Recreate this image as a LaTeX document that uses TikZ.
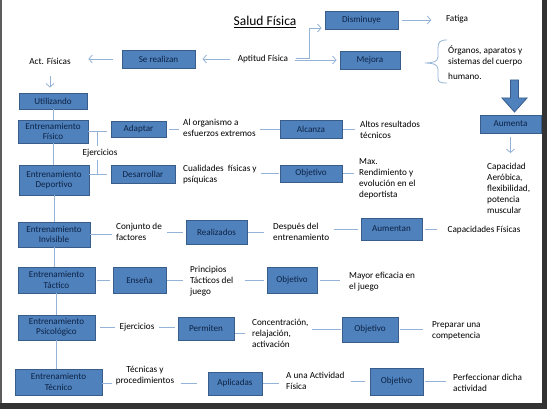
\documentclass[tikz,border=0pt]{standalone}
\usepackage{fontspec}
\setmainfont{Carlito}
\usetikzlibrary{arrows.meta,calc}
\definecolor{boxfill}{HTML}{4F81BD}
\definecolor{boxline}{HTML}{385D8A}
\definecolor{boxtext}{HTML}{0D2344}
\definecolor{connc}{HTML}{95B3D7}
\definecolor{framec}{HTML}{333333}
\begin{document}
\begin{tikzpicture}[x=1pt,y=-1pt,
  box/.style={draw=boxline,fill=boxfill,line width=0.9pt,text=boxtext,
    font=\fontsize{9.1}{10.2}\selectfont,align=center,inner sep=0pt},
  txt/.style={font=\fontsize{9.2}{11}\selectfont,align=left,inner sep=1.5pt},
  ctxt/.style={txt,align=center},
  link/.style={draw=connc,line width=0.8pt,shorten <=3pt,shorten >=3pt},
  arr/.style={draw=connc,line width=0.8pt,-{Straight Barb[length=3.5pt,width=8pt]}},
]
\useasboundingbox (0,0) rectangle (547,409);
\fill[white] (0,0) rectangle (547,409);
% frame
\fill[framec!80] (0,0) rectangle (2,403);
\fill[framec] (542,0) rectangle (547,409);
\fill[framec] (0,403) rectangle (547,409);

% title
\node[txt,font=\fontsize{13.5}{15}\selectfont] (title) at (265,22) {\underline{Salud Física}};

% top boxes
\node[box,minimum width=73pt,minimum height=18pt] (dis) at (361.5,20) {Disminuye};
\node[box,minimum width=60pt,minimum height=18pt] (mej) at (370,60) {Mejora};
\node[box,minimum width=73pt,minimum height=18pt] (ser) at (158.5,59) {Se realizan};
\node[box,minimum width=61pt,minimum height=18pt] (aum) at (510.5,124) {Aumenta};

\node[txt] (fat) at (457,19) {Fatiga};
\node[txt] (apt) at (263,59) {Aptitud Física};
\node[txt] (act) at (50,61) {Act. Físicas};
\node[txt,anchor=west] (org) at (446.5,63) {Órganos, aparatos y\\sistemas del cuerpo\\[4pt]humano.};
\node[txt,anchor=west] (cap) at (485.5,188) {Capacidad\\Aeróbica,\\flexibilidad,\\potencia\\muscular};

% brace
\draw[connc,line width=0.8pt] (447,40) .. controls (440,40) and (438,42) .. (438,48) -- (438,57)
  .. controls (438,62) and (432,63) .. (425,63) .. controls (432,63) and (438,64) .. (438,69)
  -- (438,78) .. controls (438,82) and (440,83) .. (447,83);
% big arrow
\draw[boxline,fill=boxfill,line width=0.8pt] (510.5,80) -- (518.5,80) -- (518.5,98) -- (527,98)
  -- (514.5,112) -- (502,98) -- (510.5,98) -- cycle;

% left column
\node[box,minimum width=68pt,minimum height=16pt] (uti) at (53,101) {Utilizando};
\node[box,minimum width=70pt,minimum height=23pt] (efis) at (53,131.5) {Entrenamiento\\Físico};
\node[box,minimum width=70pt,minimum height=30pt] (edep) at (54,180) {Entrenamiento\\Deportivo};
\node[box,minimum width=72pt,minimum height=25pt] (einv) at (54,234.5) {Entrenamiento\\Invisible};
\node[box,minimum width=77pt,minimum height=26pt] (etac) at (56.5,280) {Entrenamiento\\Táctico};
\node[box,minimum width=77pt,minimum height=25pt] (epsi) at (56.5,327.5) {Entrenamiento\\Psicológico};
\node[box,minimum width=87pt,minimum height=26pt] (etec) at (58.5,382) {Entrenamiento\\Técnico};

% row 1
\node[box,minimum width=55pt,minimum height=16pt] (adap) at (138.5,129) {Adaptar};
\node[txt,anchor=west] (alorg) at (181.5,128) {Al organismo a\\esfuerzos extremos};
\node[box,minimum width=62pt,minimum height=18pt] (alc) at (311,129) {Alcanza};
\node[txt,anchor=west] (altos) at (358.5,130) {Altos resultados\\técnicos};
\node[txt] (ej1) at (100,153) {Ejercicios};

% row 2
\node[box,minimum width=64pt,minimum height=18pt] (des) at (143,174) {Desarrollar};
\node[txt,anchor=west] (cual) at (181.5,175) {Cualidades \ físicas y\\psíquicas};
\node[box,minimum width=62pt,minimum height=17pt] (obj2) at (311,173.5) {Objetivo};
\node[txt,anchor=west] (max) at (357.5,178.5) {Max.\\Rendimiento y\\evolución en el\\deportista};

% row 3
\node[txt,anchor=west] (conj) at (114.5,232) {Conjunto de\\factores};
\node[box,minimum width=61pt,minimum height=24pt] (rea) at (216.5,232) {Realizados};
\node[txt,anchor=west] (desp) at (271.5,231.5) {Después del\\entrenamiento};
\node[box,minimum width=61pt,minimum height=22pt] (aumt) at (391.5,229) {Aumentan};
\node[txt] (capf) at (484,230) {Capacidades Físicas};

% row 4
\node[box,minimum width=53pt,minimum height=26pt] (ens) at (139.5,280) {Enseña};
\node[txt,anchor=west] (prin) at (188.5,281) {Principios\\Tácticos del\\juego};
\node[box,minimum width=50pt,minimum height=26pt] (obj4) at (292,280) {Objetivo};
\node[txt,anchor=west] (may) at (347.5,281.5) {Mayor eficacia en\\el juego};

% row 5
\node[txt] (ej2) at (137,327) {Ejercicios};
\node[box,minimum width=56pt,minimum height=23pt] (perm) at (206,328.5) {Permiten};
\node[txt,anchor=west] (conc) at (250.5,333) {Concentración,\\relajación,\\activación};
\node[box,minimum width=56pt,minimum height=25pt] (obj5) at (370,329.5) {Objetivo};
\node[txt,anchor=west] (prep) at (430.5,330.5) {Preparar una\\competencia};

% row 6
\node[ctxt] (tecn) at (145,376) {Técnicas y\\procedimientos};
\node[box,minimum width=54pt,minimum height=23pt] (apl) at (235,383.5) {Aplicadas};
\node[txt,anchor=west] (auna) at (284.5,381) {A una Actividad\\Física};
\node[box,minimum width=53pt,minimum height=27pt] (obj6) at (396.5,381.5) {Objetivo};
\node[txt,anchor=west] (perf) at (451.5,382.5) {Perfeccionar dicha\\actividad};

% top connectors
\draw[arr,shorten <=6pt,shorten >=7pt] (apt.west) -- (ser.east);
\draw[arr,shorten <=9pt,shorten >=16pt] (ser.west) -- (act.east |- ser.west);
\draw[arr,shorten <=10pt,shorten >=5pt] (act.south) -- (act.south |- uti.north);
\draw[arr,shorten <=5pt,shorten >=3pt] (apt.east |- mej.west) -- (mej.west);
\draw[arr] ($(apt.east)+(6,-1)$) -- ++(14,0) |- ($(dis.west)+(-3,8)$);
\draw[arr,shorten <=4pt,shorten >=13pt] (dis.east) -- (fat.west |- dis.east);
\draw[arr,shorten <=4pt,shorten >=8pt] (aum.south) -- (aum.south |- cap.north);

% vertical chain
\draw[link,shorten <=0pt,shorten >=0pt] (uti.south) -- (uti.south |- efis.north);
\draw[link,shorten <=0pt,shorten >=0pt] (efis.south) -- (efis.south |- edep.north);
\draw[link,shorten <=0pt,shorten >=0pt] (edep.south) -- (edep.south |- einv.north);
\draw[link,shorten <=0pt,shorten >=0pt] (einv.south) -- (einv.south |- etac.north);
\draw[link,shorten <=0pt,shorten >=0pt] (etac.south) -- (etac.south |- epsi.north);
\draw[link,shorten <=0pt,shorten >=0pt] (epsi.south) -- (epsi.south |- etec.north);

% row 1 connectors
\draw[link,shorten <=0pt,shorten >=4pt] (efis.east) -- (efis.east -| adap.west);
\coordinate (j1) at ($(efis.east)+(9,0)$);
\coordinate (j2) at (j1 |- des.west);
\draw[link,shorten <=0pt,shorten >=1pt] (j1) -- (j1 |- ej1.north);
\draw[link,shorten <=1pt,shorten >=0pt] (j1 |- ej1.south) -- (j2);
\draw[link] (adap.east) -- (adap.east -| alorg.west);
\draw[link,shorten >=0pt] (alorg.east |- alc.west) -- (alc.west);
\draw[link,shorten <=1pt,shorten >=4pt] (alc.east) -- (alc.east -| altos.west);

% row 2 connectors
\draw[link,shorten <=0pt,shorten >=4pt] (des.west -| edep.east) -- (des.west);
\draw[link,shorten >=1pt] (cual.east |- obj2.west) -- (obj2.west);
\draw[link,shorten <=1pt,shorten >=4pt] (obj2.east) -- (obj2.east -| max.west);

% row 3 connectors
\draw[link,shorten <=0pt] (einv.east) -- (einv.east -| conj.west);
\draw[link] (conj.east |- rea.west) -- (rea.west);
\draw[link,shorten <=1pt,shorten >=8pt] (rea.east) -- (rea.east -| desp.west);
\draw[link] (desp.east |- aumt.west) -- (aumt.west);
\draw[link,shorten >=9pt] (aumt.east) -- (aumt.east -| capf.west);

% row 4 connectors
\draw[link,shorten <=2pt] (etac.east) -- (etac.east -| ens.west);
\draw[link,shorten <=1pt,shorten >=6pt] (ens.east) -- (ens.east -| prin.west);
\draw[link,shorten <=10pt] (prin.east |- obj4.west) -- (obj4.west);
\draw[link,shorten >=8pt] (obj4.east) -- (obj4.east -| may.west);

% row 5 connectors
\draw[link,shorten <=5pt] (epsi.east) -- (epsi.east -| ej2.west);
\draw[link] (ej2.east) -- (ej2.east -| perm.west);
\draw[link,shorten <=1pt,shorten >=6pt] (perm.east |- conc.west) -- (conc.west);
\draw[link,shorten <=2pt,shorten >=1pt] (conc.east |- obj5.west) -- (obj5.west);
\draw[link,shorten <=2pt,shorten >=8pt] (obj5.east) -- (obj5.east -| prep.west);

% row 6 connectors
\draw[link,shorten <=0pt,shorten >=2pt] (etec.east |- apl.west) -- (tecn.west |- apl.west);
\draw[link,shorten <=5pt,shorten >=11pt] (tecn.east |- apl.west) -- (apl.west);
\draw[link,shorten <=1pt,shorten >=6pt] (apl.east) -- (apl.east -| auna.west);
\draw[link,shorten <=5pt,shorten >=5pt] (auna.east |- obj6.west) -- (obj6.west);
\draw[link,shorten <=2pt,shorten >=6pt] (obj6.east) -- (obj6.east -| perf.west);
\end{tikzpicture}
\end{document}
